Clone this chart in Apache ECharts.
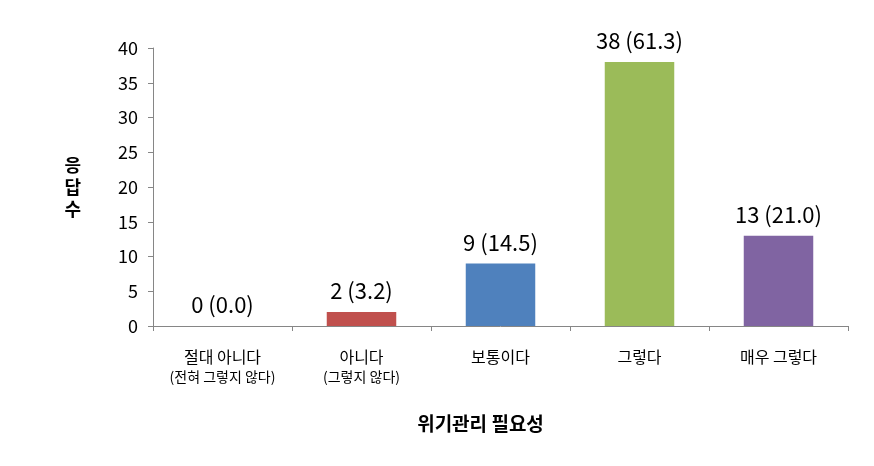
<!DOCTYPE html>
<html>
<head>
<meta charset="utf-8">
<script src="https://cdn.jsdelivr.net/npm/echarts@6/dist/echarts.min.js"></script>
<style>html,body{margin:0;padding:0;background:#fff}#c{width:874px;height:466px}</style>
</head>
<body>
<div id="c"></div>
<script>
const categories = ['절대 아니다', '아니다', '보통이다', '그렇다', '매우 그렇다'];
const subLabels = ['(전혀 그렇지 않다)', '(그렇지 않다)', '', '', ''];
const counts = [0, 2, 9, 38, 13];
const percents = ['0.0', '3.2', '14.5', '61.3', '21.0'];
const colors = ['#C0504D', '#C0504D', '#4F81BD', '#9BBB59', '#8064A2'];
const yTicks = [0, 5, 10, 15, 20, 25, 30, 35, 40];

const FONT = '"Noto Sans CJK KR", "Noto Sans", sans-serif';
const chart = echarts.init(document.getElementById('c'));
chart.setOption({
  animation: false,
  textStyle: { fontFamily: FONT },
  grid: { left: 153, right: 26, top: 48, bottom: 140 },
  xAxis: {
    type: 'category',
    data: categories,
    axisLine: { lineStyle: { color: '#868686' } },
    axisTick: { show: true, length: 5, lineStyle: { color: '#868686' } },
    axisLabel: {
      margin: 20,
      interval: 0,
      formatter: function (v, i) {
        return subLabels[i] ? '{a|' + v + '}\n{b|' + subLabels[i] + '}' : '{a|' + v + '}';
      },
      rich: {
        a: { fontSize: 16, color: '#000', fontFamily: FONT, lineHeight: 21 },
        b: { fontSize: 14, color: '#000', fontFamily: FONT, lineHeight: 19 }
      }
    },
    name: '위기관리 필요성',
    nameLocation: 'middle',
    nameGap: 88,
    nameTextStyle: { fontSize: 19, fontWeight: 'bold', color: '#000', fontFamily: FONT, padding: [0, 40, 0, 0] }
  },
  yAxis: {
    type: 'value',
    min: yTicks[0],
    max: yTicks[yTicks.length - 1],
    interval: 5,
    splitLine: { show: false },
    axisLine: { show: true, lineStyle: { color: '#868686' } },
    axisTick: { show: true, length: 5, lineStyle: { color: '#868686' } },
    axisLabel: { fontSize: 18, color: '#000', margin: 15, fontFamily: FONT },
    name: '응\n답\n수',
    nameLocation: 'middle',
    nameRotate: 0,
    nameGap: 72,
    nameTextStyle: { fontSize: 18, fontWeight: 'bold', color: '#000', lineHeight: 22, fontFamily: FONT }
  },
  series: [{
    type: 'bar',
    barWidth: '50%',
    data: counts.map(function (v, i) {
      return { value: v, itemStyle: { color: colors[i] } };
    }),
    label: {
      show: true,
      position: 'top',
      distance: 10,
      fontSize: 22,
      color: '#000',
      fontFamily: FONT,
      formatter: function (p) { return counts[p.dataIndex] + ' (' + percents[p.dataIndex] + ')'; }
    }
  }]
});
</script>
</body>
</html>
